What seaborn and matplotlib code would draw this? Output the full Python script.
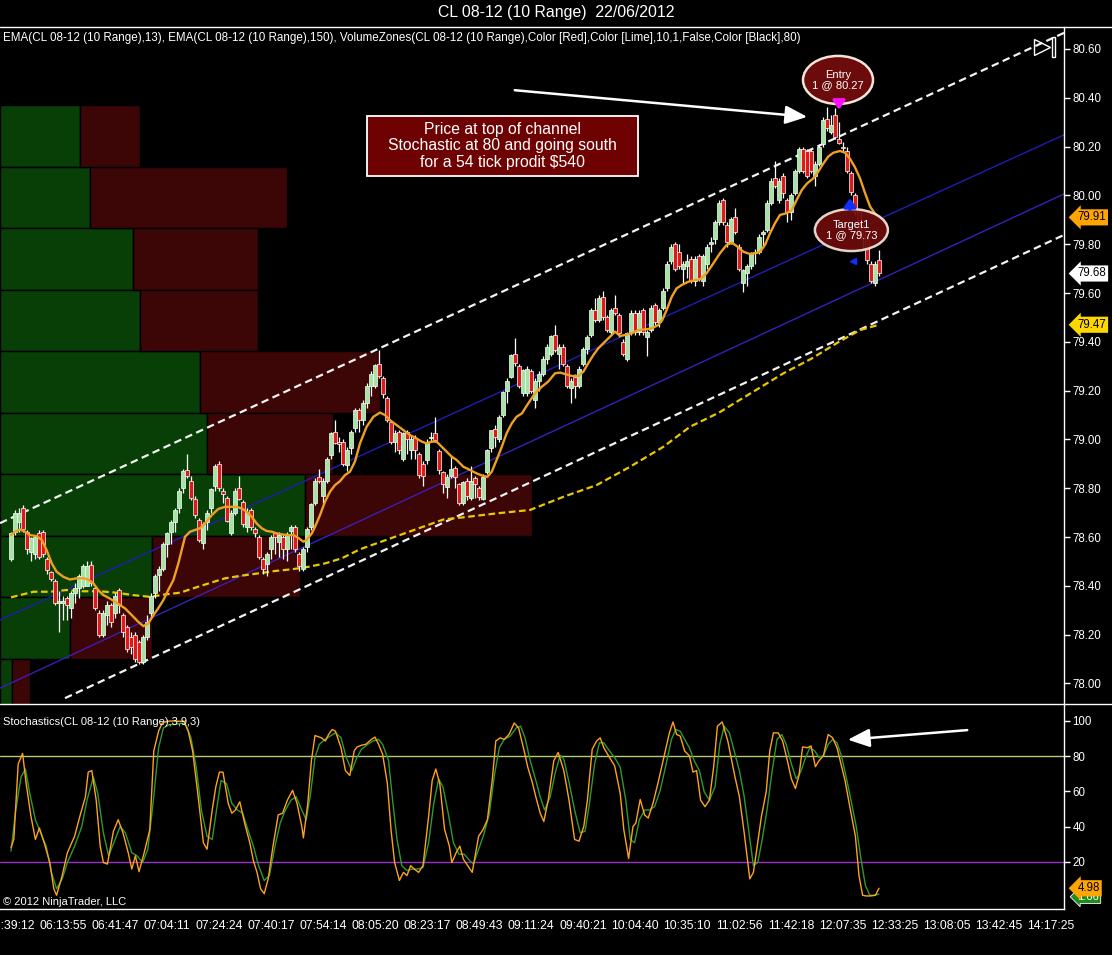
import numpy as np
import pandas as pd
import matplotlib
matplotlib.use("Agg")
import matplotlib.pyplot as plt
import matplotlib.transforms as mtransforms
from matplotlib.ticker import FormatStrFormatter
from matplotlib.patches import Ellipse, Rectangle
from matplotlib.lines import Line2D
import seaborn as sns

# ---------------- data ----------------
title = "CL 08-12 (10 Range)  22/06/2012"
header = ("EMA(CL 08-12 (10 Range),13), EMA(CL 08-12 (10 Range),150), "
          "VolumeZones(CL 08-12 (10 Range),Color [Red],Color [Lime],10,1,False,Color [Black],80)")
stoch_title = "Stochastics(CL 08-12 (10 Range),3,9,3)"
copyright_text = "\u00a9 2012 NinjaTrader, LLC"
note_text = "Price at top of channel\nStochastic at 80 and going south\nfor a 54 tick prodit $540"
entry_text = "Entry\n1 @ 80.27"
target_text = "Target1\n1 @ 79.73"

time_labels = ["05:39:12", "06:13:55", "06:41:47", "07:04:11", "07:24:24", "07:40:17",
               "07:54:14", "08:05:20", "08:23:17", "08:49:43", "09:11:24", "09:40:21",
               "10:04:40", "10:35:10", "11:02:56", "11:42:18", "12:07:35", "12:33:25",
               "13:08:05", "13:42:45", "14:17:25"]

opens = [
    78.51, 78.62, 78.66, 78.72, 78.62, 78.54, 78.53, 78.615, 78.62, 78.51,
    78.455, 78.42, 78.33, 78.33, 78.35, 78.31, 78.37, 78.39, 78.40, 78.40,
    78.485, 78.39, 78.29, 78.20, 78.28, 78.32, 78.29, 78.385, 78.28, 78.23,
    78.19, 78.20, 78.17, 78.09, 78.19, 78.29, 78.37, 78.445, 78.47, 78.57,
    78.62, 78.66, 78.72, 78.80, 78.875, 78.83, 78.755, 78.67, 78.575, 78.66,
    78.72, 78.81, 78.90, 78.79, 78.76, 78.615, 78.70, 78.80, 78.745, 78.64,
    78.71, 78.635, 78.60, 78.51, 78.49, 78.55, 78.615, 78.58, 78.60, 78.55,
    78.625, 78.64, 78.53, 78.47, 78.56, 78.64, 78.74, 78.845, 78.77, 78.83,
    78.935, 79.03, 78.99, 78.99, 78.895, 78.965, 79.045, 79.12, 79.08, 79.15,
    79.22, 79.22, 79.31, 79.25, 79.17, 79.07, 78.99, 79.03, 78.92, 79.03,
    78.955, 79.005, 78.94, 78.90, 78.915, 79.005, 79.025, 78.954, 78.867, 78.806,
    78.85, 78.885, 78.817, 78.738, 78.83, 78.76, 78.844, 78.803, 78.758, 78.868,
    78.963, 79.044, 79.00, 79.10, 79.20, 79.257, 79.352, 79.30, 79.19, 79.19,
    79.28, 79.16, 79.24, 79.27, 79.33, 79.35, 79.43, 79.35, 79.38, 79.30,
    79.21, 79.255, 79.22, 79.31, 79.37, 79.43, 79.53, 79.49, 79.585, 79.50,
    79.44, 79.54, 79.51, 79.40, 79.33, 79.44, 79.52, 79.44, 79.53, 79.42,
    79.45, 79.55, 79.48, 79.54, 79.62, 79.73, 79.80, 79.77, 79.70, 79.71,
    79.74, 79.65, 79.75, 79.65, 79.72, 79.80, 79.82, 79.89, 79.98, 79.88,
    79.81, 79.91, 79.79, 79.64, 79.68, 79.71, 79.765, 79.77, 79.84, 79.86,
    79.97, 80.07, 79.98, 80.08, 79.98, 79.93, 80.01, 80.10, 80.19, 80.18,
    80.18, 80.08, 80.13, 80.21, 80.315, 80.26, 80.33, 80.23, 80.20, 80.18,
    80.09, 80.00, 79.93, 79.87, 79.82, 79.72, 79.64, 79.735]

closes = [
    78.615, 78.70, 78.70, 78.635, 78.55, 78.595, 78.60, 78.52, 78.53, 78.465,
    78.43, 78.33, 78.34, 78.34, 78.32, 78.37, 78.39, 78.44, 78.48, 78.48,
    78.41, 78.31, 78.20, 78.29, 78.32, 78.25, 78.36, 78.32, 78.21, 78.14,
    78.15, 78.10, 78.09, 78.19, 78.25, 78.36, 78.44, 78.47, 78.57, 78.615,
    78.66, 78.71, 78.79, 78.87, 78.85, 78.76, 78.69, 78.59, 78.655, 78.70,
    78.795, 78.89, 78.80, 78.775, 78.665, 78.70, 78.79, 78.755, 78.655, 78.70,
    78.64, 78.615, 78.52, 78.47, 78.53, 78.60, 78.60, 78.61, 78.55, 78.61,
    78.64, 78.55, 78.48, 78.55, 78.635, 78.735, 78.83, 78.83, 78.83, 78.92,
    79.025, 78.985, 78.98, 78.90, 78.955, 79.03, 79.12, 79.08, 79.15, 79.22,
    79.27, 79.305, 79.26, 79.185, 79.08, 78.99, 79.025, 78.955, 79.025, 79.00,
    79.00, 78.955, 78.855, 78.85, 78.99, 79.01, 78.999, 78.874, 78.817, 78.847,
    78.88, 78.847, 78.74, 78.826, 78.77, 78.83, 78.817, 78.765, 78.847, 78.957,
    79.038, 79.01, 79.09, 79.195, 79.24, 79.346, 79.312, 79.22, 79.285, 79.29,
    79.20, 79.24, 79.27, 79.33, 79.38, 79.425, 79.365, 79.38, 79.31, 79.22,
    79.24, 79.22, 79.29, 79.37, 79.42, 79.53, 79.49, 79.58, 79.50, 79.45,
    79.53, 79.52, 79.435, 79.35, 79.435, 79.52, 79.44, 79.52, 79.44, 79.44,
    79.54, 79.48, 79.53, 79.61, 79.72, 79.79, 79.70, 79.71, 79.72, 79.73,
    79.65, 79.74, 79.66, 79.75, 79.79, 79.81, 79.89, 79.97, 79.89, 79.81,
    79.905, 79.85, 79.70, 79.695, 79.71, 79.76, 79.77, 79.83, 79.85, 79.97,
    80.06, 80.04, 80.06, 80.01, 79.93, 80.00, 80.10, 80.19, 80.10, 80.08,
    80.10, 80.13, 80.20, 80.31, 80.275, 80.29, 80.24, 80.216, 80.193, 80.10,
    80.015, 79.93, 79.87, 79.82, 79.735, 79.65, 79.72, 79.68]

highs = [
    78.62, 78.71, 78.72, 78.73, 78.63, 78.60, 78.61, 78.63, 78.63, 78.52,
    78.46, 78.43, 78.38, 78.36, 78.36, 78.38, 78.41, 78.45, 78.49, 78.50,
    78.50, 78.40, 78.30, 78.30, 78.34, 78.33, 78.37, 78.39, 78.29, 78.24,
    78.21, 78.21, 78.18, 78.20, 78.28, 78.37, 78.45, 78.48, 78.58, 78.62,
    78.67, 78.72, 78.80, 78.88, 78.94, 78.85, 78.77, 78.68, 78.66, 78.71,
    78.80, 78.90, 78.91, 78.80, 78.77, 78.71, 78.80, 78.85, 78.75, 78.72,
    78.72, 78.64, 78.61, 78.52, 78.54, 78.61, 78.62, 78.62, 78.61, 78.62,
    78.65, 78.65, 78.54, 78.56, 78.64, 78.74, 78.84, 78.88, 78.84, 78.93,
    79.03, 79.08, 79.01, 79.00, 78.97, 79.04, 79.13, 79.13, 79.16, 79.23,
    79.28, 79.31, 79.365, 79.26, 79.18, 79.08, 79.04, 79.04, 79.03, 79.04,
    79.02, 79.02, 78.95, 78.91, 79.00, 79.03, 79.09, 78.96, 78.87, 78.86,
    78.93, 78.89, 78.82, 78.83, 78.84, 78.89, 78.85, 78.81, 78.86, 78.96,
    79.04, 79.06, 79.10, 79.20, 79.25, 79.35, 79.414, 79.31, 79.29, 79.30,
    79.29, 79.25, 79.28, 79.34, 79.39, 79.43, 79.47, 79.39, 79.39, 79.31,
    79.25, 79.27, 79.30, 79.38, 79.43, 79.54, 79.58, 79.59, 79.61, 79.51,
    79.54, 79.59, 79.52, 79.41, 79.44, 79.53, 79.53, 79.53, 79.54, 79.45,
    79.55, 79.56, 79.54, 79.62, 79.73, 79.80, 79.81, 79.80, 79.73, 79.76,
    79.75, 79.75, 79.76, 79.76, 79.80, 79.83, 79.90, 79.98, 79.99, 79.89,
    79.91, 79.95, 79.80, 79.70, 79.72, 79.77, 79.78, 79.84, 79.86, 79.98,
    80.07, 80.14, 80.07, 80.09, 79.99, 80.01, 80.11, 80.20, 80.20, 80.19,
    80.19, 80.14, 80.21, 80.32, 80.364, 80.33, 80.36, 80.30, 80.22, 80.20,
    80.10, 80.01, 79.94, 79.88, 79.83, 79.73, 79.73, 79.776]

lows = [
    78.50, 78.61, 78.62, 78.62, 78.53, 78.50, 78.51, 78.51, 78.52, 78.45,
    78.42, 78.32, 78.21, 78.26, 78.26, 78.27, 78.33, 78.35, 78.39, 78.40,
    78.40, 78.30, 78.19, 78.19, 78.24, 78.23, 78.27, 78.29, 78.19, 78.13,
    78.12, 78.09, 78.08, 78.08, 78.18, 78.27, 78.35, 78.38, 78.46, 78.52,
    78.57, 78.62, 78.70, 78.78, 78.84, 78.75, 78.68, 78.58, 78.55, 78.63,
    78.70, 78.79, 78.79, 78.74, 78.66, 78.61, 78.69, 78.75, 78.64, 78.62,
    78.63, 78.60, 78.51, 78.45, 78.44, 78.51, 78.53, 78.52, 78.51, 78.50,
    78.55, 78.54, 78.46, 78.46, 78.54, 78.63, 78.73, 78.82, 78.74, 78.82,
    78.92, 78.98, 78.95, 78.89, 78.87, 78.94, 79.03, 79.03, 79.06, 79.13,
    79.18, 79.21, 79.25, 79.17, 79.07, 78.98, 78.95, 78.94, 78.91, 78.94,
    78.92, 78.92, 78.84, 78.81, 78.90, 78.99, 78.99, 78.86, 78.78, 78.76,
    78.84, 78.80, 78.73, 78.73, 78.75, 78.75, 78.76, 78.75, 78.75, 78.86,
    78.95, 78.97, 78.99, 79.09, 79.15, 79.25, 79.30, 79.21, 79.18, 79.18,
    79.19, 79.13, 79.20, 79.26, 79.31, 79.34, 79.36, 79.29, 79.30, 79.21,
    79.15, 79.17, 79.21, 79.30, 79.35, 79.42, 79.48, 79.48, 79.49, 79.44,
    79.43, 79.51, 79.42, 79.34, 79.32, 79.43, 79.43, 79.43, 79.43, 79.34,
    79.44, 79.47, 79.46, 79.53, 79.61, 79.72, 79.69, 79.70, 79.64, 79.66,
    79.64, 79.63, 79.65, 79.63, 79.70, 79.77, 79.80, 79.88, 79.88, 79.79,
    79.80, 79.84, 79.69, 79.605, 79.63, 79.70, 79.72, 79.76, 79.79, 79.85,
    79.96, 80.03, 79.97, 79.99, 79.89, 79.90, 80.00, 80.09, 80.09, 80.07,
    80.09, 80.04, 80.12, 80.20, 80.265, 80.25, 80.23, 80.21, 80.18, 80.09,
    80.00, 79.92, 79.84, 79.78, 79.72, 79.64, 79.63, 79.67]

# EMA(13) (bar position, price)
ema13_x = [0, 1, 2.25, 3.5, 4.75, 6.4, 7.7, 8.9, 10.2, 11.4, 13.1, 14.75, 16.4, 18.1, 19.3,
           20.6, 21.8, 23.1, 24.75, 26, 27.25, 28.5, 30.2, 31.8, 33.1, 34.3, 35.6, 36.8,
           38.1, 39.3, 40.6, 41.8, 43.5, 44.75, 46, 47.25, 48.5, 50.2, 51.8, 53.5, 55.2,
           56.4, 57.7, 58.9, 60.2, 61.4, 62.7, 63.9, 65.2, 66.4, 67.7, 69.3, 70.6, 71.8,
           73.1, 73.9, 75.2, 76, 77.25, 78.5, 79.75, 81, 82.25, 83.5, 84.75, 86, 87.25,
           88.9, 90.6, 92.25, 93.5, 94.75, 96.4, 98.1, 99.75, 101.4, 102.7, 103.9, 105.2,
           106.4, 107.7, 108.9, 110.2, 111.4, 113.1, 114.75, 116.4, 118.1, 119.1, 120.2,
           121.4, 122.7, 123.9, 125.2, 126.4, 127.75, 129, 131, 132.7, 134.3, 136, 137.25,
           138.5, 140.2, 141.8, 143.1, 144.3, 145.6, 146.8, 148.5, 150.2, 151, 152.25,
           153.5, 155.2, 156.8, 158.5, 160.2, 161.8, 162.8, 163.9, 165.2, 166.4, 167.7,
           169.3, 171, 172.25, 173.9, 175.6, 177.25, 178.9, 180.2, 181.4, 183.1, 184.75,
           186, 187.25, 188.5, 189.75, 191, 192.25, 193.9, 195.2, 196.4, 197.7, 199,
           200.6, 201.8, 203.1, 204.3, 205.6, 207.25, 208.5, 209.75, 211.0, 212.25,
           213.5, 214.75, 216, 217]
ema13_y = [78.608, 78.622, 78.631, 78.622, 78.608, 78.604, 78.588, 78.547, 78.492, 78.458,
           78.437, 78.426, 78.431, 78.431, 78.426, 78.410, 78.383, 78.362, 78.348, 78.335,
           78.321, 78.308, 78.280, 78.253, 78.235, 78.246, 78.280, 78.308, 78.342, 78.383,
           78.424, 78.490, 78.601, 78.622, 78.629, 78.636, 78.656, 78.690, 78.715, 78.724,
           78.724, 78.724, 78.717, 78.704, 78.683, 78.656, 78.636, 78.625, 78.622, 78.615,
           78.611, 78.608, 78.608, 78.597, 78.581, 78.588, 78.615, 78.642, 78.690, 78.745,
           78.786, 78.813, 78.829, 78.854, 78.868, 78.910, 78.984, 79.052, 79.093, 79.110,
           79.100, 79.079, 79.059, 79.038, 79.018, 79.004, 78.991, 78.984, 78.991, 78.991,
           78.970, 78.950, 78.929, 78.916, 78.888, 78.875, 78.861, 78.850, 78.847, 78.868,
           78.916, 78.970, 79.025, 79.066, 79.093, 79.107, 79.140, 79.189, 79.216, 79.237,
           79.271, 79.274, 79.268, 79.260, 79.260, 79.278, 79.312, 79.346, 79.373, 79.401,
           79.428, 79.442, 79.424, 79.428, 79.435, 79.448, 79.451, 79.455, 79.469, 79.489,
           79.530, 79.585, 79.619, 79.633, 79.646, 79.653, 79.656, 79.681, 79.722, 79.763,
           79.797, 79.806, 79.793, 79.769, 79.760, 79.763, 79.769, 79.797, 79.845, 79.886,
           79.920, 79.927, 79.940, 79.981, 80.022, 80.049, 80.070, 80.097, 80.131, 80.159,
           80.175, 80.182, 80.175, 80.150, 80.115, 80.070, 80.010, 79.955, 79.925, 79.910]

# EMA(150)
ema150_x = [0, 5.6, 9.75, 13.9, 18.1, 22.25, 26.4, 30.6, 34.75, 38.5, 42.25, 47.25, 53.5,
            57.7, 61.75, 66, 70.2, 74.3, 78.5, 82.7, 87.25, 108.1, 113.1, 121.4, 129.75,
            138.1, 146.4, 154.75, 163.1, 169.75, 177, 185, 193, 200, 207, 212.25, 217]
ema150_y = [78.353, 78.376, 78.376, 78.383, 78.378, 78.378, 78.372, 78.362, 78.355, 78.365,
            78.372, 78.399, 78.431, 78.442, 78.451, 78.461, 78.468, 78.478, 78.492, 78.513,
            78.550, 78.672, 78.681, 78.697, 78.711, 78.765, 78.813, 78.888, 78.970, 79.052,
            79.11, 79.19, 79.27, 79.33, 79.40, 79.448, 79.47]

# drawn channel (anchor points at both chart edges)
channel_x = [-2.75, 263.25]
upper_dash_y = [78.657, 80.666]
lower_dash_x = [13.5, 263.25]
lower_dash_y = [77.94, 79.838]
upper_blue_y = [78.26, 80.248]
lower_blue_y = [77.981, 80.006]

# volume zones (price edges, up / down volume in relative units)
zone_edges = [80.37, 80.118, 79.866, 79.614, 79.362, 79.11, 78.858, 78.606, 78.354, 78.102, 77.85]
up_volume = [80, 90, 133, 140, 200, 207, 305, 152, 70, 12]
down_volume = [60, 197, 125, 118, 180, 126, 227, 148, 82, 18]

# Stochastics %K (orange) and %D (green)
stoch_k_x = [0.0, 0.7, 1.8, 2.9, 3.8, 5.0, 6.1, 7.1, 8.3, 9.7, 10.7, 11.4, 12.8, 14.1, 15.9,
             17.2, 18.6, 19.3, 20.2, 21.3, 22.3, 23.1, 24.1, 25.6, 26.8, 28.0, 29.3, 30.2,
             31.1, 32.0, 33.3, 34.7, 35.7, 36.9, 37.8, 39.1, 40.5, 41.8, 43.2, 44.3, 45.4,
             46.7, 48.1, 49.0, 50.3, 51.2, 52.1, 53.0, 54.3, 55.2, 56.1, 57.2, 58.4, 59.7,
             60.6, 61.5, 62.4, 63.3, 64.3, 65.5, 66.8, 67.9, 69.1, 70.4, 71.5, 72.7, 73.1,
             74.2, 75.1, 76.0, 77.6, 78.6, 79.4, 80.3, 81.1, 82.5, 83.6, 84.7, 85.8, 86.5,
             87.8, 88.7, 90.1, 91.0, 91.9, 92.9, 94.1, 95.0, 95.9, 97.1, 98.1, 99.0, 99.9,
             100.8, 101.9, 103.0, 104.4, 105.3, 106.2, 107.2, 108.4, 109.6, 110.2, 111.3,
             112.2, 113.1, 114.2, 115.3, 116.9, 118.0, 119.1, 120.3, 121.2, 122.3, 123.3,
             124.5, 125.8, 126.9, 128.1, 129.2, 130.3, 131.2, 132.3, 133.2, 134.3, 135.7,
             136.8, 138.2, 139.5, 140.9, 142.0, 143.2, 144.1, 145.3, 146.4, 147.3, 148.2,
             149.6, 150.9, 152.3, 153.2, 154.4, 155.5, 156.2, 157.3, 158.4, 159.3, 160.5,
             161.9, 163.2, 164.6, 165.5, 166.4, 167.3, 168.4, 169.6, 170.5, 171.4, 172.4,
             173.5, 174.6, 175.7, 176.6, 177.8, 179.2, 180.1, 181.0, 182.1, 183.3, 184.7,
             185.6, 186.5, 187.6, 188.8, 189.7, 190.6, 191.8, 192.9, 194.0, 195.1, 196.1,
             197.0, 197.9, 199.1, 200.0, 201.1, 202.0, 203.1, 204.3, 205.4, 206.5, 207.4,
             208.5, 209.7, 211.1, 212.0, 212.9, 213.8, 214.9, 216.1, 217.0]
stoch_k_y = [28.0, 32.7, 75.6, 81.5, 64.3, 45.7, 32.7, 39.2, 30.8, 19.6,
             4.7, 1.0, 12.2, 25.2, 34.5, 45.7, 56.9, 70.9, 71.8, 55.0,
             28.9, 19.6, 18.7, 37.3, 43.9, 36.4, 25.2, 15.9, 23.4, 14.4,
             25.2, 38.3, 83.0, 94.2, 98.8, 99.8, 100.0, 99.8, 99.8, 94.2,
             83.0, 58.8, 30.8, 27.1, 49.4, 62.5, 70.9, 70.9, 53.2, 47.6,
             49.4, 54.1, 42.0, 30.8, 20.6, 14.0, 4.7, 1.9, 10.3, 28.9,
             46.6, 47.6, 55.0, 60.6, 53.2, 40.1, 33.6, 53.2, 77.4, 91.7,
             90.4, 88.6, 92.3, 95.1, 94.2, 84.8, 71.8, 69.0, 83.0, 85.2,
             86.3, 86.7, 89.5, 90.8, 86.7, 81.1, 64.3, 38.3, 19.6, 9.4,
             14.0, 12.2, 17.8, 15.9, 14.0, 17.8, 45.7, 66.2, 72.7, 64.3,
             38.3, 28.9, 19.6, 25.2, 28.9, 21.5, 17.8, 14.0, 34.5, 38.3,
             43.9, 66.2, 88.6, 90.4, 89.5, 92.3, 98.8, 96.0, 84.8, 73.7,
             65.3, 56.9, 47.6, 42.9, 55.0, 77.4,
             82.1, 71.8, 55.0, 32.7, 31.7, 40.1, 55.0, 83.9, 88.6, 90.4,
             84.8, 79.3, 74.6, 58.8, 38.3, 21.9, 40.1, 42.0, 55.4, 46.6,
             44.8, 53.2, 66.2, 79.3, 93.2, 99.4, 92.3, 91.4, 83.0, 80.2,
             70.9, 71.8, 55.0, 51.3, 55.0, 74.6, 97.0, 99.4, 88.6, 78.3,
             68.1, 56.9, 36.4, 10.3, 14.0, 28.0, 45.7, 59.7, 83.0, 93.2,
             93.2, 88.6, 78.3, 67.1, 61.6, 69.0, 85.2, 84.8, 85.8, 74.0,
             77.4, 80.2, 92.3, 90.4, 84.8, 76.5, 66.2, 51.3, 34.5, 12.2,
             1.0, 0.6, 0.6, 1.0, 4.98]
stoch_d_x = [0.0, 1.2, 2.5, 3.6, 4.7, 6.1, 7.4, 8.8, 10.1, 11.4, 12.8, 14.1, 15.9, 17.7, 19.0,
             20.6, 21.7, 23.1, 24.4, 25.7, 27.3, 28.6, 30.2, 31.5, 32.9, 34.2, 35.6, 36.9,
             38.1, 39.6, 40.9, 42.7, 43.8, 45.0, 46.3, 47.6, 49.0, 50.3, 51.5, 52.5, 53.9,
             55.2, 56.6, 57.9, 59.2, 60.6, 61.9, 63.3, 64.6, 66.0, 67.3, 68.6, 70.0, 71.3,
             72.7, 73.8, 74.9, 76.0, 77.1, 78.5, 79.8, 81.1, 82.5, 83.8, 85.2, 86.3, 87.6,
             89.2, 90.5, 91.9, 92.9, 94.4, 95.4, 96.5, 97.7, 99.0, 100.4, 101.7, 103.0,
             104.4, 105.7, 106.9, 108.0, 109.3, 110.6, 112.0, 113.3, 114.7, 115.6, 116.9,
             118.2, 119.6, 120.9, 122.1, 123.3, 124.8, 126.3, 127.4, 128.5, 129.8, 131.2,
             132.3, 133.4, 134.8, 136.1,
             137.3, 138.2, 139.5, 140.9, 142.3, 143.5, 144.5, 145.9, 147.1, 148.2, 149.6,
             150.9, 152.3, 153.7, 154.8, 155.9, 157.1, 158.4, 159.6, 160.9, 162.3, 163.7,
             165.1, 166.2, 167.3, 168.4, 169.6, 170.8, 172.1, 173.3, 174.6, 176.0, 177.2,
             178.3, 179.6, 180.8, 182.1, 183.3, 184.5, 185.6, 186.7, 187.8, 189.0, 190.3,
             191.5, 192.7, 193.8, 195.1, 196.3, 197.4, 198.5, 199.7, 200.9, 202.0, 203.1,
             204.3, 205.4, 206.5, 207.6, 208.8, 210.0, 211.3, 212.5, 213.6, 214.7, 215.8,
             217.0]
stoch_d_y = [26.1, 49.4, 68.1, 72.7, 58.8, 43.9, 36.4, 28.9, 14.0, 4.7,
             10.3, 19.6, 28.9, 40.1, 55.0, 68.1, 58.8, 36.4, 23.4, 30.8,
             40.1, 36.4, 25.2, 23.4, 19.6, 27.1, 55.0, 84.8, 96.0, 97.9,
             97.9, 98.8, 97.5, 90.4, 73.7, 49.4, 34.5, 32.7, 51.3, 66.2,
             64.3, 53.2, 49.4, 47.6, 38.3, 28.9, 17.8, 9.4, 12.2, 28.9,
             42.0, 49.4, 55.0, 56.9, 49.4, 43.9, 58.8, 79.3, 86.7, 89.5,
             91.4, 93.2, 90.4, 79.3, 71.8, 78.3, 83.9, 86.7, 88.6, 89.5,
             86.7, 77.4, 55.0, 32.7, 17.8, 15.0, 15.9, 15.9, 16.8, 30.8,
             53.2, 67.1, 62.5, 47.6, 30.8, 24.3, 24.3, 20.6, 18.7, 27.1,
             35.5, 47.6, 69.9, 84.8, 89.5, 91.4, 96.0, 97.0, 90.4, 77.4,
             66.2, 56.9, 49.4, 56.9, 70.9,
             80.5, 78.3, 65.3, 49.4, 36.4, 37.3, 51.3, 75.5, 87.6, 87.6,
             83.0, 79.3, 73.7, 55.0, 32.7, 30.8, 43.9, 49.4, 49.4, 51.3,
             60.6, 74.6, 89.5, 95.1, 94.2, 89.5, 84.8, 77.4, 71.8, 59.7,
             55.0, 62.5, 86.7, 97.0, 93.2, 83.0, 71.8, 56.9, 36.4, 17.8,
             19.6, 32.7, 49.4, 71.8, 89.5, 92.3, 86.7, 75.5, 67.1, 70.9,
             78.3, 84.8, 83.0, 79.3, 80.2, 86.7, 89.5, 87.6, 80.2, 68.1,
             55.0, 40.1, 21.5, 6.6, 1.0, 1.0, 1.66]

# trade markers / annotations (bar, price)
entry_bar, entry_price = 207, 80.27
exit_bar, exit_price = 210.5, 79.73

# ---------------- styling ----------------
sns.set_theme(style="dark", rc={
    "axes.facecolor": "black", "figure.facecolor": "black", "savefig.facecolor": "black",
    "axes.edgecolor": "white", "text.color": "white", "xtick.color": "white",
    "ytick.color": "white", "axes.grid": False, "axes.labelcolor": "white"})
plt.rcParams['font.family'] = ['Liberation Sans', 'DejaVu Sans']

W, H = 1112, 955
fig = plt.figure(figsize=(W / 100, H / 100), dpi=100, facecolor='black')


def fy(ypx):
    return 1 - ypx / H


XL = (-2.75, 263.25)
price_rect = [0, fy(704), 1064 / W, fy(27) - fy(704)]
stoch_rect = [0, fy(909), 1064 / W, fy(704) - fy(909)]
PY = (77.916, 80.690)
SY = (-6.8, 109.6)

# volume zone axes (behind)
zax = fig.add_axes(price_rect)
zax.set_facecolor('black')
edges = np.array(zone_edges)
lo = edges[1:]
hgt = edges[:-1] - edges[1:]
up_v = np.array(up_volume, float)
dn_v = np.array(down_volume, float)
zax.barh(lo, up_v, height=hgt, left=0, align='edge', color='#073f07',
         edgecolor='black', linewidth=1.0)
zax.barh(lo, dn_v, height=hgt, left=up_v, align='edge', color='#3d0606',
         edgecolor='black', linewidth=1.0)
zax.set_xlim(0, (up_v + dn_v).max() / 0.5)
zax.set_ylim(*PY)
zax.set_axis_off()

# price axes
ax = fig.add_axes(price_rect)
ax.patch.set_visible(False)
ax.set_xlim(*XL)
ax.set_ylim(*PY)

# channel lines
ax.plot(channel_x, upper_blue_y, color='#1e1eb4', lw=1.0, zorder=2)
ax.plot(channel_x, lower_blue_y, color='#3a1eb8', lw=1.0, zorder=2)
l1, = ax.plot(channel_x, upper_dash_y, color='#f2f2f2', lw=1.6, zorder=2)
l2, = ax.plot(lower_dash_x, lower_dash_y, color='#f2f2f2', lw=1.6, zorder=2)
for ln in (l1, l2):
    ln.set_dashes((3.4, 2.0))

# EMA 150
e150 = pd.DataFrame({"bar": ema150_x, "price": ema150_y})
sns.lineplot(data=e150, x="bar", y="price", ax=ax, color='#e8c800', lw=1.6,
             sort=False, estimator=None, zorder=3)
ax.lines[-1].set_dashes((3.0, 1.6))

# candles
o = np.array(opens); c = np.array(closes); h = np.array(highs); l = np.array(lows)
bars = np.arange(len(c))
up = c >= o
ax.vlines(bars, l, h, color='white', lw=0.9, zorder=4)
body_lo = np.minimum(o, c)
body_h = np.maximum(np.abs(c - o), 0.004)
ax.bar(bars, body_h, bottom=body_lo, width=0.8,
       color=np.where(up, '#a3e6a3', '#e01818'), edgecolor='white', linewidth=0.5, zorder=5)

# EMA 13
e13 = pd.DataFrame({"bar": ema13_x, "price": ema13_y})
sns.lineplot(data=e13, x="bar", y="price", ax=ax, color='#f0a020', lw=1.7,
             sort=False, estimator=None, zorder=6)

ax.set_xlabel(""); ax.set_ylabel("")
ax.set_xticks([])
ax.yaxis.tick_right()
ax.set_yticks(np.arange(78.0, 80.601, 0.2))
ax.yaxis.set_major_formatter(FormatStrFormatter('%.2f'))
ax.tick_params(axis='y', colors='white', length=4, width=1, direction='out', pad=2,
               labelsize=8.3)
for s in ('left', 'top', 'bottom'):
    ax.spines[s].set_visible(False)
ax.spines['right'].set_color('white')
ax.spines['right'].set_linewidth(1.0)

# note box
ax.add_patch(Rectangle((89, 80.08), 67.75, 0.245, facecolor='#6e0202', edgecolor='white',
                       lw=1.3, zorder=8))
ax.text(122.9, 80.2025, note_text, ha='center', va='center', fontsize=11.3, color='white',
        linespacing=1.12, zorder=9)
ax.annotate('', xy=(199.75, 80.321), xytext=(125.25, 80.432),
            arrowprops=dict(arrowstyle='-|>,head_length=0.95,head_width=0.4',
                            color='white', lw=1.8, mutation_scale=14), zorder=9)

# entry / target ellipses and execution markers
ax.add_patch(Ellipse((206.75, 80.473), 17.5, 0.197, facecolor='#6c0b0b',
                     edgecolor='#f3e4d8', lw=1.8, zorder=8))
ax.text(206.75, 80.473, entry_text, ha='center', va='center', fontsize=8.0,
        color='white', linespacing=1.05, zorder=9)
ax.annotate('', xy=(entry_bar, entry_price + 0.07), xytext=(entry_bar, entry_price + 0.13),
            arrowprops=dict(arrowstyle='-|>,head_length=0.5,head_width=0.35',
                            color='#ff10ff', lw=2.4, mutation_scale=10), zorder=9)
ax.annotate('', xy=(exit_bar - 0.75, exit_price + 0.27), xytext=(exit_bar - 0.75, exit_price + 0.20),
            arrowprops=dict(arrowstyle='-|>,head_length=0.5,head_width=0.35',
                            color='#1030ff', lw=2.4, mutation_scale=10), zorder=9)
ax.add_patch(Ellipse((210.1, 79.858), 18.25, 0.172, facecolor='#6c0b0b',
                     edgecolor='#f3e4d8', lw=1.8, alpha=0.93, zorder=8))
ax.text(210.1, 79.858, target_text, ha='center', va='center', fontsize=8.0,
        color='white', linespacing=1.05, zorder=9)
ax.plot([exit_bar], [exit_price], marker='<', ms=5, color='#1030ff', zorder=9)

# top-right chart icon
ax.plot([0.9793], [0.9705], transform=ax.transAxes, marker='>', ms=11, mfc='none',
        mec='white', mew=1.0, clip_on=False)
ax.add_patch(Rectangle((0.9887, 0.9557), 0.0028, 0.0295, transform=ax.transAxes,
                       facecolor='none', edgecolor='white', lw=1.0))

# right-side value tags
trans_p = mtransforms.blended_transform_factory(ax.transAxes, ax.transData)
for val, fc in ((ema13_y[-1], '#ffa500'), (closes[-1], 'white'), (ema150_y[-1], '#ffd700')):
    ax.text(1.0125, val, f"{val:.2f}", transform=trans_p, ha='left', va='center',
            fontsize=8.3, color='black', clip_on=False, zorder=10,
            bbox=dict(boxstyle='larrow,pad=0.18', fc=fc, ec='none'))

# stochastics axes
sax = fig.add_axes(stoch_rect)
sax.set_xlim(*XL)
sax.set_ylim(*SY)
sax.axhline(80, color='#b4cc74', lw=1.0, zorder=1)
sax.axhline(20, color='#9a30c8', lw=1.0, zorder=1)
dd = pd.DataFrame({"bar": stoch_d_x, "value": stoch_d_y})
kk = pd.DataFrame({"bar": stoch_k_x, "value": stoch_k_y})
sns.lineplot(data=dd, x="bar", y="value", ax=sax, color='#2e9a2e', lw=1.0,
             sort=False, estimator=None, zorder=2)
sns.lineplot(data=kk, x="bar", y="value", ax=sax, color='#ffa31a', lw=1.0,
             sort=False, estimator=None, zorder=3)
sax.annotate('', xy=(208.5, 89.2), xytext=(239.75, 94.9),
             arrowprops=dict(arrowstyle='-|>,head_length=0.95,head_width=0.4',
                             color='white', lw=1.8, mutation_scale=14), zorder=9)
sax.set_xlabel(""); sax.set_ylabel("")
sax.yaxis.tick_right()
sax.set_yticks([20, 40, 60, 80, 100])
sax.tick_params(axis='y', colors='white', length=4, width=1, direction='out', pad=2,
                labelsize=8.3)
tick_pos = np.arange(len(time_labels)) * 13
sax.set_xticks(tick_pos)
sax.set_xticklabels(time_labels)
sax.tick_params(axis='x', colors='white', length=5, width=1, direction='out', pad=3,
                labelsize=8.8)
for s in ('left', 'top'):
    sax.spines[s].set_visible(False)
for s in ('right', 'bottom'):
    sax.spines[s].set_color('white')
    sax.spines[s].set_linewidth(1.0)
trans_s = mtransforms.blended_transform_factory(sax.transAxes, sax.transData)
sax.text(1.0125, stoch_d_y[-1] - 1.5, f"{stoch_d_y[-1]:.2f}", transform=trans_s, ha='left',
         va='center', fontsize=8.0, color='white', clip_on=False, zorder=10,
         bbox=dict(boxstyle='larrow,pad=0.15', fc='#1f8a1f', ec='white', lw=0.6))
sax.text(1.0125, stoch_k_y[-1], f"{stoch_k_y[-1]:.2f}", transform=trans_s, ha='left',
         va='center', fontsize=8.3, color='black', clip_on=False, zorder=11,
         bbox=dict(boxstyle='larrow,pad=0.18', fc='#ffa500', ec='none'))

# frame lines and texts
fig.add_artist(Line2D([0, 1], [fy(27), fy(27)], color='white', lw=1.0))
fig.add_artist(Line2D([0, 1], [fy(704), fy(704)], color='white', lw=1.0))
fig.text(0.5, fy(12), title, ha='center', va='center', fontsize=11.4, color='white')
fig.text(3 / W, fy(38), header, ha='left', va='center', fontsize=8.4, color='white')
fig.text(3 / W, fy(722), stoch_title, ha='left', va='center', fontsize=8.0, color='white')
fig.text(3 / W, fy(902), copyright_text, ha='left', va='center', fontsize=8.0, color='white')

fig.savefig("out.png", dpi=100, facecolor='black')
